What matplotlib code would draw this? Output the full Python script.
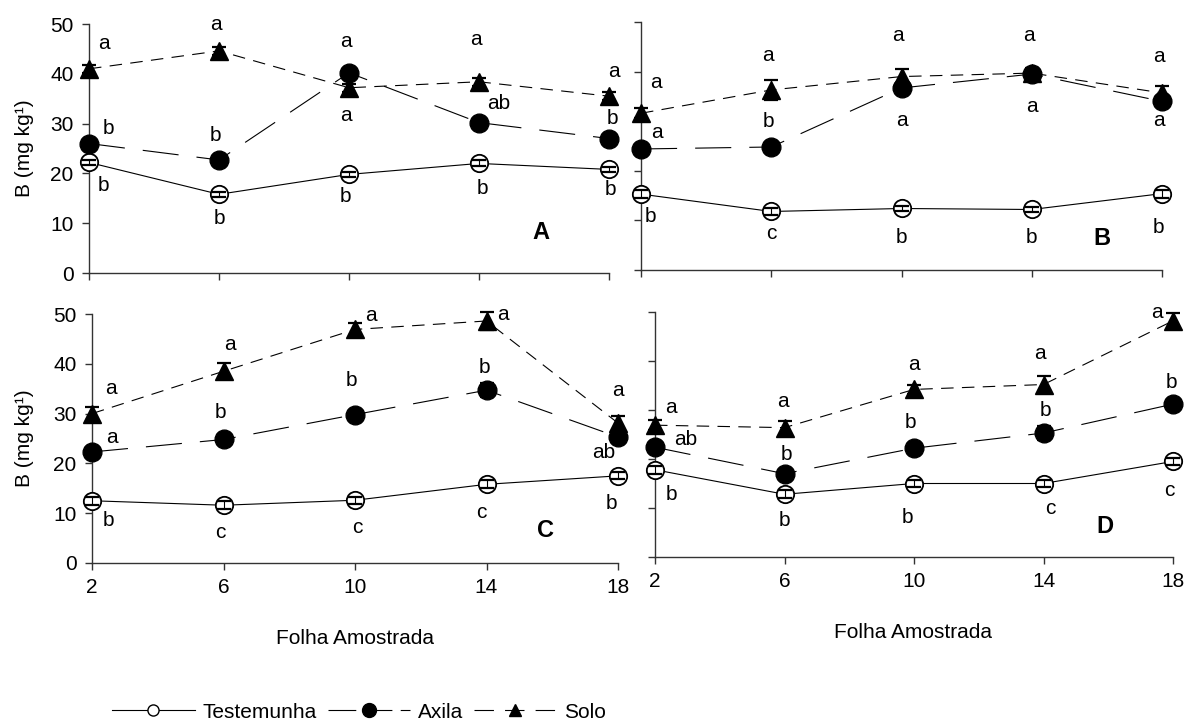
import matplotlib
matplotlib.use("Agg")
import matplotlib.pyplot as plt
from matplotlib.lines import Line2D

plt.rcParams["font.family"] = ["Liberation Sans", "DejaVu Sans"]
plt.rcParams["lines.scale_dashes"] = False

folha = [2, 6, 10, 14, 18]

# mean B (mg/kg) per panel
testemunha_A = [22.2, 15.8, 19.8, 22.0, 20.8]
axila_A = [26.0, 22.7, 40.2, 30.2, 27.0]
solo_A = [41.0, 44.6, 37.2, 38.4, 35.5]

testemunha_B = [15.3, 11.8, 12.4, 12.2, 15.4]
axila_B = [24.4, 24.8, 36.7, 39.5, 34.0]
solo_B = [31.6, 36.3, 39.0, 39.7, 35.7]

testemunha_C = [12.5, 11.6, 12.6, 15.8, 17.5]
axila_C = [22.3, 24.8, 29.8, 34.7, 25.3]
solo_C = [30.0, 38.5, 46.9, 48.6, 28.1]

testemunha_D = [17.8, 12.8, 15.0, 15.0, 19.5]
axila_D = [22.4, 17.0, 22.2, 25.3, 31.2]
solo_D = [26.9, 26.4, 34.2, 35.2, 48.2]

# error bars
err_test_A = [0.5, 0.5, 0.5, 0.6, 0.5]
err_axila_A = [0.5, 0.5, 0.5, 0.5, 0.5]
err_solo_A = [0.8, 0.8, 0.8, 0.8, 0.8]
err_test_B = [0.8, 0.8, 0.6, 0.6, 0.8]
err_axila_B = [0.5, 0.5, 0.5, 1.0, 0.8]
err_solo_B = [1.0, 2.0, 1.5, 1.0, 1.4]
err_test_C = [0.8, 0.8, 0.7, 0.8, 0.7]
err_axila_C = [0.5, 0.5, 0.8, 1.4, 0.8]
err_solo_C = [1.3, 1.6, 1.2, 1.8, 1.5]
err_test_D = [0.8, 0.8, 0.7, 0.7, 0.7]
err_axila_D = [0.5, 0.5, 0.7, 1.5, 0.6]
err_solo_D = [1.0, 1.4, 1.0, 1.7, 1.5]

# significance letters (x, y, letter)
letras_A = [(2.45, 46.1, "a"), (2.6, 29.0, "b"), (2.45, 17.6, "b"),
            (5.9, 50.0, "a"), (5.9, 27.7, "b"), (6.0, 10.9, "b"),
            (9.9, 46.4, "a"), (9.9, 31.7, "a"), (9.9, 15.3, "b"),
            (13.9, 46.9, "a"), (14.6, 34.0, "ab"), (14.1, 17.0, "b"),
            (18.15, 40.4, "a"), (18.1, 31.1, "b"), (18.03, 16.7, "b")]
letras_B = [(2.46, 37.9, "a"), (2.5, 27.7, "a"), (2.3, 10.7, "b"),
            (5.9, 43.3, "a"), (5.9, 29.9, "b"), (6.0, 7.4, "c"),
            (9.9, 47.3, "a"), (10.0, 30.2, "a"), (10.0, 6.6, "b"),
            (13.9, 47.3, "a"), (14.0, 33.0, "a"), (14.0, 6.6, "b"),
            (17.9, 43.0, "a"), (17.9, 30.1, "a"), (17.9, 8.6, "b")]
letras_C = [(2.58, 35.1, "a"), (2.6, 25.3, "a"), (2.5, 8.6, "b"),
            (6.2, 43.8, "a"), (5.9, 30.2, "b"), (5.9, 6.2, "c"),
            (10.5, 49.6, "a"), (9.9, 36.7, "b"), (10.06, 7.1, "c"),
            (14.5, 50.0, "a"), (13.95, 39.3, "b"), (13.85, 10.1, "c"),
            (18.0, 34.7, "a"), (17.55, 22.1, "ab"), (17.8, 12.0, "b")]
letras_D = [(2.5, 30.6, "a"), (2.95, 23.9, "ab"), (2.5, 12.7, "b"),
            (5.95, 31.7, "a"), (6.07, 21.0, "b"), (6.0, 7.5, "b"),
            (10.0, 39.3, "a"), (9.9, 27.5, "b"), (9.8, 8.0, "b"),
            (13.9, 41.6, "a"), (14.05, 29.9, "b"), (14.2, 10.0, "c"),
            (17.5, 49.8, "a"), (17.95, 35.7, "b"), (17.9, 13.5, "c")]

W, H = 1188, 722
fig = plt.figure(figsize=(W / 100, H / 100), dpi=100)

# axes boxes in pixels: left, right, top (y=50), bottom (y=0)
caixas = {
    "A": (89, 609, 24, 273),
    "B": (641, 1162, 22, 270),
    "C": (92, 618, 314, 563),
    "D": (655, 1173, 312, 557),
}
paineis = {
    "A": (testemunha_A, axila_A, solo_A, err_test_A, err_axila_A, err_solo_A, letras_A, (15.9, 8.2)),
    "B": (testemunha_B, axila_B, solo_B, err_test_B, err_axila_B, err_solo_B, letras_B, (16.15, 6.4)),
    "C": (testemunha_C, axila_C, solo_C, err_test_C, err_axila_C, err_solo_C, letras_C, (15.8, 6.6)),
    "D": (testemunha_D, axila_D, solo_D, err_test_D, err_axila_D, err_solo_D, letras_D, (15.9, 6.3)),
}

fs = 15
dash_axila = (0, (26, 13))
dash_solo = (0, (9, 6))

for nome, (l, r, t, b) in caixas.items():
    ax = fig.add_axes([l / W, 1 - b / H, (r - l) / W, (b - t) / H])
    test, axi, solo, et, ea, es, letras, pos_letra = paineis[nome]

    ax.plot(folha, test, color="black", lw=0.8, marker="o", ms=12.5,
            mfc="white", mec="black", mew=1.3, clip_on=False, zorder=3)
    ax.plot(folha, axi, color="black", lw=0.8, ls=dash_axila, marker="o", ms=13.5,
            mfc="black", mec="black", clip_on=False, zorder=3)
    ax.plot(folha, solo, color="black", lw=0.8, ls=dash_solo, marker="^", ms=13,
            mfc="black", mec="black", clip_on=False, zorder=3)
    for vals, errs in [(test, et), (axi, ea), (solo, es)]:
        ax.errorbar(folha, vals, yerr=errs, fmt="none", ecolor="black", elinewidth=0.8,
                    capsize=5, capthick=1.6, clip_on=False, zorder=4)

    for x, y, s in letras:
        ax.text(x, y, s, ha="center", va="center", fontsize=fs, clip_on=False)
    ax.text(pos_letra[0], pos_letra[1], nome, ha="center", va="center",
            fontsize=17, fontweight="bold")

    ax.set_xlim(2, 18)
    ax.set_ylim(0, 50)
    ax.set_xticks(folha)
    ax.set_yticks(range(0, 51, 10))
    for lado in ["top", "right"]:
        ax.spines[lado].set_visible(False)
    for lado in ["left", "bottom"]:
        ax.spines[lado].set_color("#333333")
        ax.spines[lado].set_linewidth(1)
    ax.tick_params(direction="out", length=5, width=1, color="#333333",
                   labelsize=fs, pad=6)
    if nome in ("A", "B"):
        ax.tick_params(labelbottom=False)
    if nome in ("B", "D"):
        ax.tick_params(labelleft=False)

fig.text(25 / W, 1 - 148 / H, "B (mg kg\u00b9)", rotation=90, ha="center", va="center", fontsize=fs)
fig.text(25 / W, 1 - 438 / H, "B (mg kg\u00b9)", rotation=90, ha="center", va="center", fontsize=fs)
fig.text(355 / W, 1 - 638 / H, "Folha Amostrada", ha="center", va="center", fontsize=fs)
fig.text(913 / W, 1 - 632 / H, "Folha Amostrada", ha="center", va="center", fontsize=fs)

handles = [
    Line2D([0], [0], color="black", lw=0.8, marker="o", ms=8, mfc="white", mec="black"),
    Line2D([0], [0], color="black", lw=0.8, ls=(0, (20, 6)), marker="o", ms=10, mfc="black"),
    Line2D([0], [0], color="black", lw=0.8, ls=(0, (14, 8)), marker="^", ms=9, mfc="black"),
]
fig.legend(handles, ["Testemunha", "Axila", "Solo"], loc="center left",
           bbox_to_anchor=(104 / W, 1 - 712 / H), ncol=3, frameon=False,
           fontsize=fs, handlelength=3.95, handletextpad=0.4, columnspacing=0.5,
           numpoints=1, borderaxespad=0)

fig.savefig("out.png", dpi=100)
